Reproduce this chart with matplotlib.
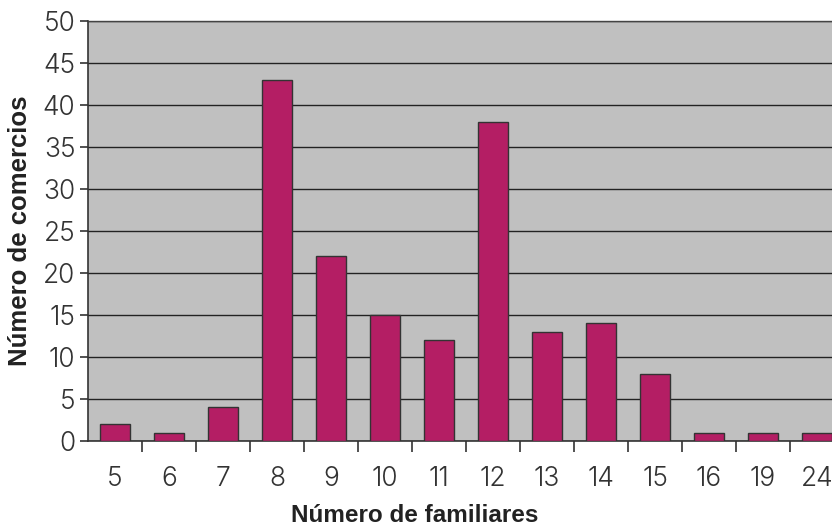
import matplotlib
matplotlib.use("Agg")
import matplotlib.pyplot as plt
import numpy as np

categories = ["5", "6", "7", "8", "9", "10", "11", "12", "13", "14", "15", "16", "19", "24"]
values = [2, 1, 4, 43, 22, 15, 12, 38, 13, 14, 8, 1, 1, 1]
yticks = [0, 5, 10, 15, 20, 25, 30, 35, 40, 45, 50]

plt.rcParams['font.family'] = ['Liberation Sans', 'DejaVu Sans']
W, H = 832, 526
fig = plt.figure(figsize=(W / 100, H / 100), dpi=100)
left, right, top, bottom = 88, 844, 21, 441
ax = fig.add_axes([left / W, 1 - bottom / H, (right - left) / W, (bottom - top) / H])
ax.set_facecolor('#c0c0c0')

x = np.arange(len(categories))
ax.set_axisbelow(True)
ax.yaxis.grid(True, color='#222222', linewidth=1.0)
ax.bar(x, values, width=0.57, color='#b41e64', edgecolor='#333333', linewidth=1.0, zorder=3)

ax.set_xlim(-0.5, len(categories) - 0.5)
ax.set_ylim(0, 50)
ax.set_yticks(yticks)
ax.set_yticklabels([str(t) for t in yticks])
ax.set_xticks(x)
ax.set_xticklabels(categories)
ax.set_xticks(np.arange(0.5, len(categories) - 0.5, 1.0), minor=True)
ax.tick_params(axis='x', which='major', length=0, pad=18, labelsize=19, colors='#333333')
ax.tick_params(axis='x', which='minor', length=8, width=1.2, color='#333333', direction='out')
ax.tick_params(axis='y', length=6, width=1.2, color='#333333', labelsize=19, labelcolor='#333333', pad=3)
for lab in ax.get_xticklabels() + ax.get_yticklabels():
    lab.set_family(['Inter', 'DejaVu Sans'])
    lab.set_fontweight(300)

for s in ['left', 'bottom']:
    ax.spines[s].set_color('#333333')
    ax.spines[s].set_linewidth(1.2)
ax.spines['top'].set_color('#444444')
ax.spines['top'].set_linewidth(1.0)
ax.spines['right'].set_visible(False)

ax.set_xlabel('Número de familiares', fontsize=17.5, fontweight='bold', color='#222222')
ax.set_ylabel('Número de comercios', fontsize=18.5, fontweight='bold', color='#222222')
ax.xaxis.label.set_va('center')
ax.yaxis.label.set_va('center')
ax.xaxis.set_label_coords((415 - left) / (right - left), -(515 - bottom) / (bottom - top))
ax.yaxis.set_label_coords((20 - left) / (right - left), 0.5)

fig.savefig('out.png', dpi=100)
